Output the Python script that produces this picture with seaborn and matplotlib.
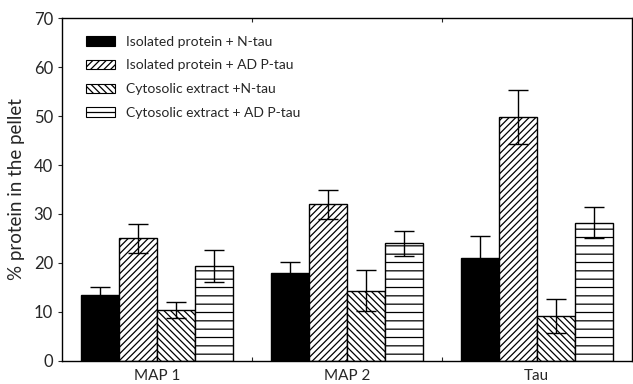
import numpy as np
import pandas as pd
import matplotlib
matplotlib.use("Agg")
import matplotlib.pyplot as plt
from matplotlib.patches import Patch
import seaborn as sns

categories = ["MAP 1", "MAP 2", "Tau"]
series = ["Isolated protein + N-tau", "Isolated protein + AD P-tau",
          "Cytosolic extract +N-tau", "Cytosolic extract + AD P-tau"]
values = {
    "Isolated protein + N-tau": [13.5, 18.0, 21.0],
    "Isolated protein + AD P-tau": [25.0, 32.0, 49.8],
    "Cytosolic extract +N-tau": [10.4, 14.3, 9.2],
    "Cytosolic extract + AD P-tau": [19.4, 24.0, 28.2],
}
errors = {
    "Isolated protein + N-tau": [1.5, 2.2, 4.5],
    "Isolated protein + AD P-tau": [3.0, 3.0, 5.6],
    "Cytosolic extract +N-tau": [1.6, 4.2, 3.4],
    "Cytosolic extract + AD P-tau": [3.2, 2.6, 3.2],
}
y_ticks = [0, 10, 20, 30, 40, 50, 60, 70]

rows = []
for s in series:
    for c, v in zip(categories, values[s]):
        rows.append({"cat": c, "series": s, "val": v})
df = pd.DataFrame(rows)

sns.set_theme(style="ticks")
plt.rcParams["font.family"] = ["Lato", "DejaVu Sans"]
plt.rcParams["hatch.linewidth"] = 0.9
plt.rcParams["hatch.color"] = "black"

fig = plt.figure(figsize=(6.33, 3.84), dpi=100)
ax = fig.add_axes([0.098, 0.06, 0.9, 0.893])

sns.barplot(data=df, x="cat", y="val", hue="series", order=categories,
            hue_order=series, ax=ax, legend=False, errorbar=None,
            width=0.8, edgecolor="black", linewidth=1.0, saturation=1)

faces = ["black", "white", "white", "white"]
hatches = [None, "/////", "\\\\\\\\\\", "--"]
bars = ax.patches
n = len(categories)
for i, s in enumerate(series):
    for j in range(n):
        p = bars[i * n + j]
        p.set_facecolor(faces[i])
        p.set_edgecolor("black")
        if hatches[i]:
            p.set_hatch(hatches[i])
        xc = p.get_x() + p.get_width() / 2
        ax.errorbar(xc, p.get_height(), yerr=errors[s][j], fmt="none",
                    ecolor="black", elinewidth=1.0, capsize=7, capthick=1.0,
                    zorder=5)

ax.set_ylim(0, 70)
ax.set_xlim(-0.5, 2.5)
ax.set_yticks(y_ticks)
ax.set_xticks([0.5, 1.5], minor=True)
ax.tick_params(axis="y", labelsize=12, length=3, width=0.8, direction="out")
ax.tick_params(axis="x", which="major", labelsize=11, length=0, pad=6)
ax.tick_params(axis="x", which="minor", length=3, width=0.8, direction="in",
               top=True, bottom=True)
ax.set_xlabel("")
ax.set_ylabel("% protein in the pellet", fontsize=13.5, labelpad=6)
for sp in ax.spines.values():
    sp.set_visible(True)
    sp.set_linewidth(1.0)
    sp.set_color("black")

handles = [Patch(facecolor=faces[i], edgecolor="black", hatch=hatches[i], linewidth=0.8)
           for i in range(4)]
ax.legend(handles, series, loc="upper left", bbox_to_anchor=(0.02, 0.985),
          frameon=False, fontsize=10, handlelength=2.1, handleheight=0.7,
          labelspacing=0.85, handletextpad=0.8)

fig.savefig("out.png", dpi=100)
